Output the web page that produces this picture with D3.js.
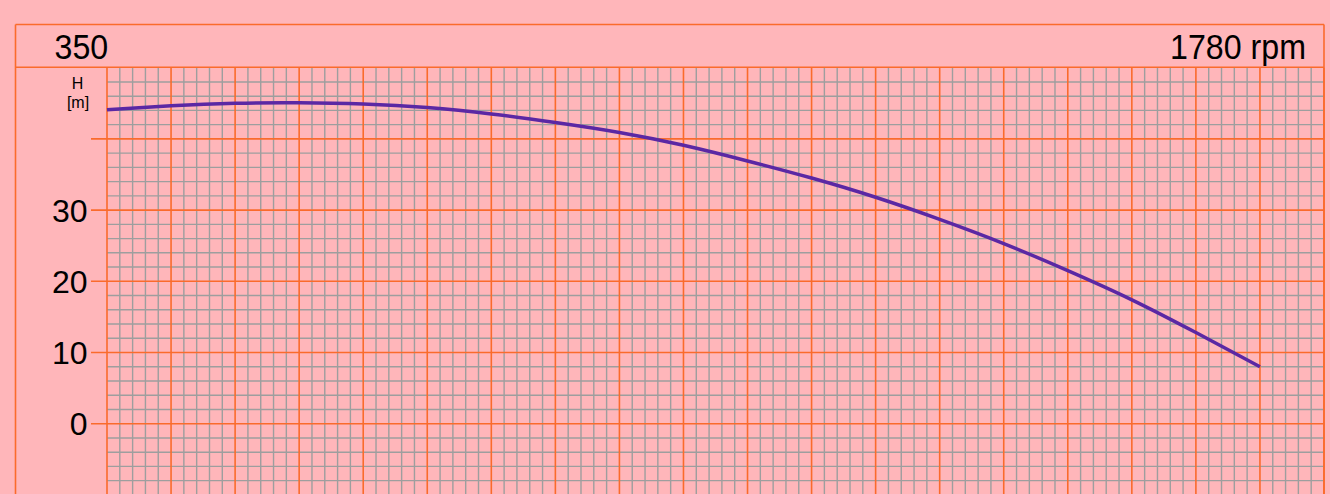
<!DOCTYPE html>
<html>
<head>
<meta charset="utf-8">
<script src="https://cdn.jsdelivr.net/npm/d3@7"></script>
<style>
  html, body { margin: 0; padding: 0; background: #FFB6BA; }
  svg { display: block; }
  text { font-family: "Liberation Sans", Arial, sans-serif; fill: #000; }
</style>
</head>
<body>
<svg id="chart" width="1330" height="494"></svg>
<script>
// ---- data ----
const flowPoints = [0, 1, 2, 3, 4, 5, 6, 7, 8, 9, 10, 11, 12, 13, 14, 15, 16, 17, 18];
const headValues = [44.1, 44.65, 45.0, 45.07, 44.9, 44.4, 43.5, 42.3, 40.9, 39.1, 36.9, 34.5, 31.8, 28.7, 25.3, 21.5, 17.4, 12.8, 8.0];
const yTickValues = [0, 10, 20, 30, 40];
const yTickLabels = ["0", "10", "20", "30", ""];
const diameterLabel = "350";
const speedLabel = "1780 rpm";
const axisTitle = ["H", "[m]"];

// ---- layout ----
const W = 1330, H = 494;
const frame = { left: 15.5, top: 24.5, right: 1324, headerBottom: 67.3 };
const plot = { left: 107, right: 1324, top: 67.7, bottom: 494.9 };
const colors = { bg: "#FFB6BA", major: "#FA6B2C", minor: "#9E9E9E", curve: "#5B28A4" };

const svg = d3.select("#chart");
svg.append("rect").attr("width", W).attr("height", H).attr("fill", colors.bg);

const x = d3.scaleLinear().domain([0, 19]).range([plot.left, plot.right]);
const y = d3.scaleLinear().domain([-10, 50]).range([plot.bottom, plot.top]);

const g = svg.append("g");

// minor grid
const xMinor = d3.range(0, 19.001, 0.2).filter(v => Math.abs(v - Math.round(v)) > 1e-6);
const yMinor = d3.range(-10, 50.001, 2).filter(v => Math.abs(v / 10 - Math.round(v / 10)) > 1e-6);
g.selectAll(".vminor").data(xMinor).enter().append("line")
  .attr("x1", d => x(d)).attr("x2", d => x(d))
  .attr("y1", plot.top).attr("y2", H)
  .attr("stroke", colors.minor).attr("stroke-width", 1.4);
g.selectAll(".hminor").data(yMinor).enter().append("line")
  .attr("x1", plot.left).attr("x2", plot.right)
  .attr("y1", d => y(d)).attr("y2", d => y(d))
  .attr("stroke", colors.minor).attr("stroke-width", 1.4);

// major grid
const xMajor = d3.range(0, 20, 1);
const yMajor = d3.range(-10, 50, 10);
g.selectAll(".vmajor").data(xMajor).enter().append("line")
  .attr("x1", d => x(d)).attr("x2", d => x(d))
  .attr("y1", plot.top).attr("y2", H)
  .attr("stroke", colors.major).attr("stroke-width", 1.6);
g.selectAll(".hmajor").data(yMajor).enter().append("line")
  .attr("x1", plot.left - 16).attr("x2", plot.right)
  .attr("y1", d => y(d)).attr("y2", d => y(d))
  .attr("stroke", colors.major).attr("stroke-width", 1.6);

// frame
const fr = svg.append("g").attr("stroke", colors.major).attr("stroke-width", 1.6).attr("fill", "none");
fr.append("line").attr("x1", frame.left).attr("x2", frame.right).attr("y1", frame.top).attr("y2", frame.top);
fr.append("line").attr("x1", frame.left).attr("x2", frame.right).attr("y1", frame.headerBottom).attr("y2", frame.headerBottom);
fr.append("line").attr("x1", frame.left).attr("x2", frame.left).attr("y1", frame.top).attr("y2", H);
fr.append("line").attr("x1", frame.right).attr("x2", frame.right).attr("y1", frame.top).attr("y2", H);

// header texts
svg.append("text").attr("transform", "translate(54.5,59) scale(0.92,1)")
  .attr("font-size", 35).text(diameterLabel);
svg.append("text").attr("transform", "translate(1306,59) scale(0.92,1)")
  .attr("font-size", 35).attr("text-anchor", "end").text(speedLabel);

// y tick labels
svg.selectAll(".ylab").data(yTickValues).enter().append("text")
  .attr("x", 87.5).attr("y", d => y(d) + 11.5)
  .attr("font-size", 32).attr("text-anchor", "end")
  .text((d, i) => yTickLabels[i]);

// axis title
svg.append("text").attr("x", 77.5).attr("y", 89).attr("font-size", 16).attr("text-anchor", "middle").text(axisTitle[0]);
svg.append("text").attr("x", 78).attr("y", 108).attr("font-size", 16).attr("text-anchor", "middle").text(axisTitle[1]);

// curve
const line = d3.line().x((d, i) => x(flowPoints[i])).y(d => y(d)).curve(d3.curveNatural);
svg.append("path").datum(headValues).attr("d", line)
  .attr("fill", "none").attr("stroke", colors.curve).attr("stroke-width", 3.5).attr("stroke-linecap", "butt");
</script>
</body>
</html>
